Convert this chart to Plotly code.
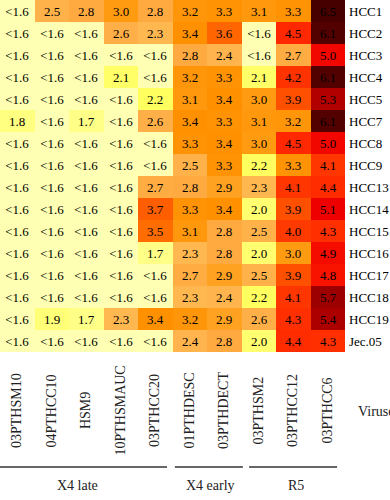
import plotly.graph_objects as go

viruses = ["03PTHSM10", "04PTHCC10", "HSM9", "10PTHSMAUC", "03PTHCC20",
           "01PTHDESC", "03PTHDECT", "03PTHSM2", "03PTHCC12", "03PTHCC6"]
sera = ["HCC1", "HCC2", "HCC3", "HCC4", "HCC5", "HCC7", "HCC8", "HCC9",
        "HCC13", "HCC14", "HCC15", "HCC16", "HCC17", "HCC18", "HCC19", "Jec.05"]

L = "<1.6"
row_hcc1 = [L, "2.5", "2.8", "3.0", "2.8", "3.2", "3.3", "3.1", "3.3", "6.5"]
row_hcc2 = [L, L, L, "2.6", "2.3", "3.4", "3.6", L, "4.5", "6.1"]
row_hcc3 = [L, L, L, L, L, "2.8", "2.4", L, "2.7", "5.0"]
row_hcc4 = [L, L, L, "2.1", L, "3.2", "3.3", "2.1", "4.2", "6.1"]
row_hcc5 = [L, L, L, L, "2.2", "3.1", "3.4", "3.0", "3.9", "5.3"]
row_hcc7 = ["1.8", L, "1.7", L, "2.6", "3.4", "3.3", "3.1", "3.2", "6.1"]
row_hcc8 = [L, L, L, L, L, "3.3", "3.4", "3.0", "4.5", "5.0"]
row_hcc9 = [L, L, L, L, L, "2.5", "3.3", "2.2", "3.3", "4.1"]
row_hcc13 = [L, L, L, L, "2.7", "2.8", "2.9", "2.3", "4.1", "4.4"]
row_hcc14 = [L, L, L, L, "3.7", "3.3", "3.4", "2.0", "3.9", "5.1"]
row_hcc15 = [L, L, L, L, "3.5", "3.1", "2.8", "2.5", "4.0", "4.3"]
row_hcc16 = [L, L, L, L, "1.7", "2.3", "2.8", "2.0", "3.0", "4.9"]
row_hcc17 = [L, L, L, L, L, "2.7", "2.9", "2.5", "3.9", "4.8"]
row_hcc18 = [L, L, L, L, L, "2.3", "2.4", "2.2", "4.1", "5.7"]
row_hcc19 = [L, "1.9", "1.7", "2.3", "3.4", "3.2", "2.9", "2.6", "4.3", "5.4"]
row_jec05 = [L, L, L, L, L, "2.4", "2.8", "2.0", "4.4", "4.3"]

rows = [row_hcc1, row_hcc2, row_hcc3, row_hcc4, row_hcc5, row_hcc7, row_hcc8,
        row_hcc9, row_hcc13, row_hcc14, row_hcc15, row_hcc16, row_hcc17,
        row_hcc18, row_hcc19, row_jec05]

groups = ["X4 late", "X4 early", "R5"]
group_start = [0, 5, 7]
group_end = [4, 6, 9]

BELOW = 1.5  # value used to colour "<1.6" cells
z = [[BELOW if s == L else float(s) for s in r] for r in rows]

zmin, zmax = 1.5, 6.5
def n(v):
    return (v - zmin) / (zmax - zmin)

colorscale = [
    [n(1.5), "#FFFFB3"],
    [n(1.65), "#FFFF8C"],
    [n(2.2), "#FFFF60"],
    [n(2.25), "#FFB852"],
    [n(2.8), "#FFAA40"],
    [n(2.95), "#FF9C12"],
    [n(3.4), "#FF9000"],
    [n(3.5), "#FF6C00"],
    [n(3.7), "#FF5E00"],
    [n(3.9), "#FF5000"],
    [n(4.0), "#FF3A00"],
    [n(4.5), "#FF2800"],
    [n(4.8), "#F81200"],
    [n(5.1), "#EE0000"],
    [n(5.3), "#B20000"],
    [n(5.7), "#9C0000"],
    [n(6.1), "#520000"],
    [n(6.5), "#460000"],
]

SERIF = "Liberation Serif"

fig = go.Figure(go.Heatmap(
    z=z, x=viruses, y=sera, text=rows, texttemplate="%{text}",
    textfont=dict(family=SERIF, size=13, color="black"),
    colorscale=colorscale, zmin=zmin, zmax=zmax, showscale=False,
    xgap=0, ygap=0, hoverinfo="skip",
))

fig.update_xaxes(showticklabels=False, ticks="", showgrid=False, zeroline=False,
                 range=[-0.5, 9.5])
fig.update_yaxes(autorange="reversed", side="right", ticks="", showgrid=False,
                 zeroline=False, tickfont=dict(family=SERIF, size=13, color="black"),
                 ticklabelstandoff=3)

annotations = []
for v in viruses:
    annotations.append(dict(x=v, y=-0.167, xref="x", yref="paper", text=v,
                            textangle=-90, showarrow=False,
                            xanchor="center", yanchor="middle",
                            font=dict(family=SERIF, size=14, color="#222")))

# bracket line trims (in category units) and label offsets per group
line_pad_left = [0.0, 0.07, 0.22]
line_pad_right = [0.16, -0.04, 0.23]
label_shift = [-0.25, 0.09, 0.08]

shapes = []
for i, (g, s, e) in enumerate(zip(groups, group_start, group_end)):
    x0 = s - 0.5 + line_pad_left[i]
    x1 = e + 0.5 - line_pad_right[i]
    shapes.append(dict(type="line", xref="x", yref="paper", x0=x0, x1=x1,
                       y0=-0.327, y1=-0.327, line=dict(color="#333", width=1.5)))
    annotations.append(dict(x=(s + e) / 2 + label_shift[i], y=-0.378, xref="x",
                            yref="paper", text=g, showarrow=False,
                            xanchor="center", yanchor="middle",
                            font=dict(family=SERIF, size=14, color="#222")))

annotations.append(dict(x=1.032, y=-0.17, xref="paper", yref="paper", text="Viruses",
                        xanchor="left", yanchor="middle", showarrow=False,
                        font=dict(family=SERIF, size=14, color="#222")))

fig.update_layout(width=390, height=500, margin=dict(l=0, r=45, t=0, b=148),
                  paper_bgcolor="white", plot_bgcolor="white",
                  annotations=annotations, shapes=shapes)

fig.write_html("out.html")
